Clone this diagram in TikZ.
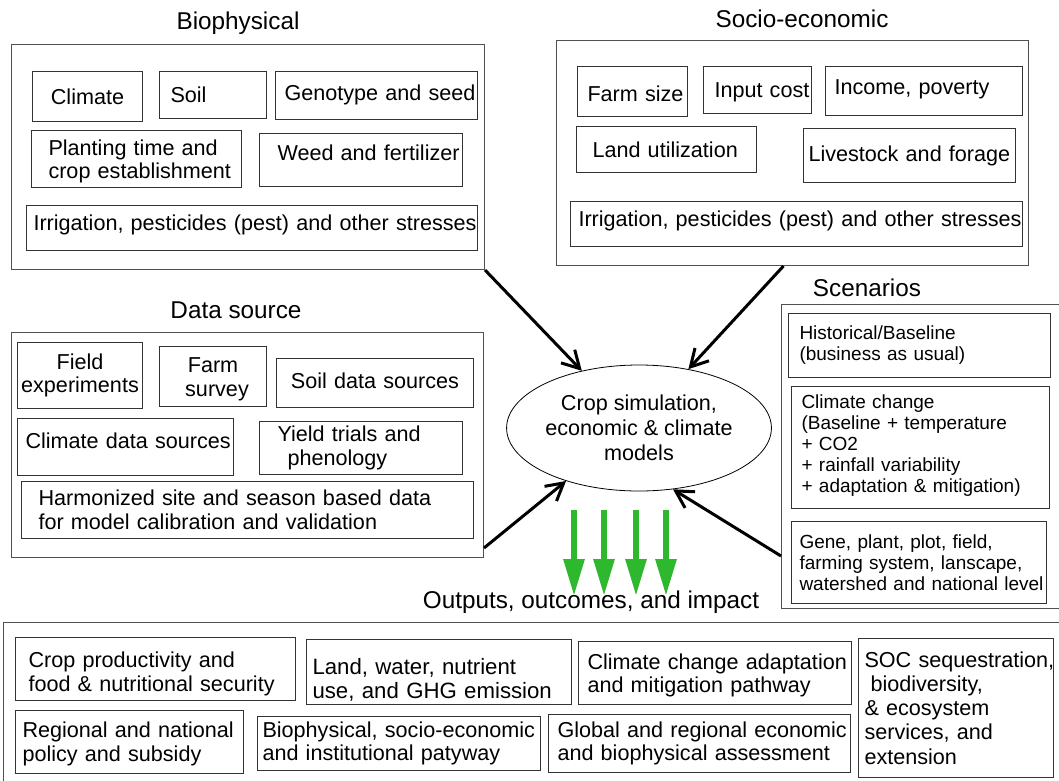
\documentclass[tikz,border=0pt]{standalone}
\usepackage{fontspec}
\setmainfont{Liberation Sans}
\usetikzlibrary{shapes.geometric,arrows.meta}
\definecolor{arrgreen}{RGB}{46,184,46}
\definecolor{edgegray}{RGB}{80,80,80}
\newcommand\nb[1]{\mbox{#1}}
\newcommand\up[2]{\raisebox{#1}[\height][\depth]{#2}}
\begin{document}
\begin{tikzpicture}[x=1pt,y=-1pt,
  grp/.style={draw=edgegray, line width=1pt, anchor=north west, inner sep=0pt},
  bx/.style={draw=black!80, line width=1pt, anchor=north west, inner ysep=0pt,
    font=\fontsize{21.6}{23.5}\selectfont, align=left},
  ttl/.style={anchor=base, font=\fontsize{24.3}{28}\selectfont},
  sc/.style={font=\fontsize{19}{21}\selectfont},
  arr/.style={line width=3pt, -{Straight Barb[length=17pt,width=19pt]}},
  garr/.style={draw=arrgreen, line width=6pt, -{Triangle[length=37pt,width=20pt]}}]
\useasboundingbox (0,0) rectangle (1059,780);

% ---------- Biophysical ----------
\node[grp, minimum width=473pt, minimum height=225pt] (bio) at (11,44) {};
\node[ttl] (biot) at (238,29) {Biophysical};
\node[bx, align=center, text width=102pt, inner xsep=4pt, minimum height=50pt] (climate) at (32,71) {Climate};
\node[bx, text width=85pt, inner xsep=11pt, minimum height=47pt] (soil) at (159,71) {Soil};
\node[bx, text width=184pt, inner xsep=9pt, minimum height=48pt] (geno) at (275,71) {\up{1pt}{Genotype and seed}};
\node[bx, text width=176pt, inner xsep=17pt, minimum height=57pt] (plant) at (31,130) {\up{-2.5pt}{Planting time and}\\\up{-2.5pt}{crop establishment}};
\node[bx, text width=167pt, inner xsep=18pt, minimum height=53pt] (weed) at (259,133) {\up{7.5pt}{Weed and fertilizer}};
\node[bx, text width=437pt, inner xsep=7pt, minimum height=45pt] (irr1) at (26,205) {\up{3.5pt}{Irrigation, pesticides (pest) and other stresses}};

% ---------- Socio-economic ----------
\node[grp, minimum width=472pt, minimum height=225pt] (soc) at (556,40) {};
\node[ttl] (soct) at (802,27) {Socio-economic};
\node[bx, text width=90pt, inner xsep=10pt, minimum height=50pt] (farm) at (577,66) {\up{-2pt}{Farm size}};
\node[bx, text width=86pt, inner xsep=11pt, minimum height=47pt] (input) at (703,66) {\up{-2.5pt}{Input cost}};
\node[bx, text width=179pt, inner xsep=9pt, minimum height=49pt] (income) at (825,66) {\up{1.5pt}{Income, poverty}};
\node[bx, text width=148pt, inner xsep=16pt, minimum height=46pt] (landu) at (576,126) {\nb{Land utilization}};
\node[bx, text width=202pt, inner xsep=5pt, minimum height=54pt] (live) at (803,128) {\nb{Livestock and forage}};
\node[bx, text width=436pt, inner xsep=8pt, minimum height=45pt] (irr2) at (570,201) {\up{3.5pt}{Irrigation, pesticides (pest) and other stresses}};

% ---------- Data source ----------
\node[grp, minimum width=472pt, minimum height=225pt] (dat) at (11,332) {};
\node[ttl] (datt) at (236,318) {Data source};
\node[bx, align=center, text width=121pt, inner xsep=2pt, minimum height=66pt] (field) at (17,342) {Field\\experiments};
\node[bx, align=center, text width=103pt, inner xsep=2pt, minimum height=60pt] (survey) at (159,346) {\up{-3pt}{Farm}\\\up{-3pt}{\hspace{8pt}survey}};
\node[bx, align=center, text width=193pt, inner xsep=2pt, minimum height=49pt] (soilds) at (276,358) {\up{2.5pt}{Soil data sources}};
\node[bx, text width=200pt, inner xsep=8pt, minimum height=57pt] (climds) at (17,418) {\up{6.5pt}{Climate data sources}};
\node[bx, text width=167pt, inner xsep=18pt, minimum height=53pt] (yield) at (259,421) {Yield trials and\\\hspace{10pt}phenology};
\node[bx, text width=418pt, inner xsep=17pt, minimum height=57pt] (harm) at (21,481) {Harmonized site and season based data\\for model calibration and validation};

% ---------- Model ----------
\node[ellipse, draw, line width=0.8pt, minimum width=222pt, minimum height=126pt, inner sep=0pt,
  align=center, font=\fontsize{21.6}{25}\selectfont] (model) at (639,428)
  {Crop simulation,\\economic \& climate\\models};

% ---------- Scenarios ----------
\node[grp, minimum width=283pt, minimum height=304pt] (scn) at (781,304) {};
\node[ttl] (scnt) at (867,296) {Scenarios};
\node[bx, sc, text width=240pt, inner xsep=11pt, minimum height=64pt] (hist) at (788,313) {Historical/Baseline\\(business as usual)};
\node[bx, sc, text width=238pt, inner xsep=10pt, minimum height=122pt] (cc) at (791,386)
  {\up{1.5pt}{Climate change}\\\up{1.5pt}{(Baseline + temperature}\\\up{1.5pt}{+ CO2}\\\up{1.5pt}{+ rainfall variability}\\\up{1.5pt}{+ adaptation \& mitigation)}};
\node[bx, sc, text width=239pt, inner xsep=8pt, minimum height=82pt] (gene) at (791,521)
  {Gene, plant, plot, field,\\farming system, lanscape,\\\nb{watershed and national level}};

% ---------- Outputs ----------
\node[grp, minimum width=1061pt, minimum height=170pt] (out) at (3,622) {};
\node[ttl] (outt) at (591,608) {Outputs, outcomes, and impact};
\node[bx, text width=254pt, inner xsep=13pt, minimum height=63pt] (crop) at (15,637)
  {\up{-5pt}{Crop productivity and}\\\up{-5pt}{food \& nutritional security}};
\node[bx, font=\fontsize{22.2}{23.5}\selectfont, text width=253pt, inner xsep=6pt, minimum height=65pt] (landw) at (306,639)
  {\up{-8pt}{Land, water, nutrient}\\\up{-8pt}{use, and GHG emission}};
\node[bx, text width=255pt, inner xsep=9pt, minimum height=63pt] (ccad) at (578,641)
  {\up{-2.5pt}{Climate change adaptation}\\\up{-2.5pt}{and mitigation pathway}};
\node[bx, font=\fontsize{21.6}{24.2}\selectfont, text width=183pt, inner xsep=6pt, minimum height=139pt] (socs) at (858,638)
  {\nb{SOC sequestration,}\\\hspace{6pt}biodiversity,\\\& ecosystem\\services, and\\extension};
\node[bx, text width=214pt, inner xsep=7pt, minimum height=63pt] (regional) at (15,710)
  {\up{-2pt}{Regional and national}\\\up{-2pt}{policy and subsidy}};
\node[bx, text width=273pt, inner xsep=5pt, minimum height=54pt] (biosoc) at (257,716)
  {\nb{Biophysical, socio-economic}\\and institutional patyway};
\node[bx, text width=284pt, inner xsep=9pt, minimum height=58pt] (global) at (548,714)
  {\nb{Global and regional economic}\\\nb{and biophysical assessment}};

% ---------- Connectors ----------
\draw[arr] (bio.south east) -- (model.135);
\draw[arr] ([xshift=-9pt]soc.south) -- (model.50);
\draw[arr] ([yshift=10pt]dat.south east) -- (model.-144);
\draw[arr] ([yshift=53pt]scn.south west) -- (model.-61);

\coordinate (g1a) at (574,510); \coordinate (g1b) at (574,596);
\coordinate (g2a) at (604,510); \coordinate (g2b) at (604,596);
\coordinate (g3a) at (636,510); \coordinate (g3b) at (636,596);
\coordinate (g4a) at (666,510); \coordinate (g4b) at (666,596);
\draw[garr] (g1a) -- (g1b);
\draw[garr] (g2a) -- (g2b);
\draw[garr] (g3a) -- (g3b);
\draw[garr] (g4a) -- (g4b);
\end{tikzpicture}
\end{document}
